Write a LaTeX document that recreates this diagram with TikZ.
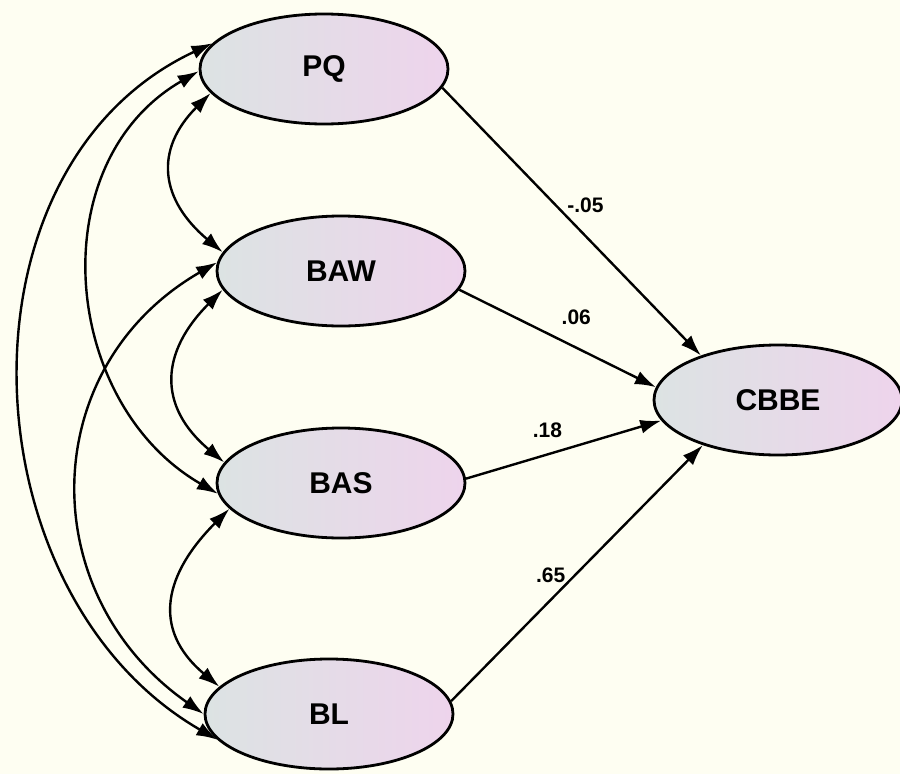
\documentclass[tikz,border=0pt]{standalone}
\usepackage{fontspec}
\setmainfont{Liberation Sans}
\usetikzlibrary{positioning, arrows.meta, shapes.geometric}
\definecolor{pagecream}{RGB}{254,254,242}
\definecolor{ellleft}{RGB}{220,227,227}
\definecolor{ellright}{RGB}{238,212,236}
\tikzset{
  semnode/.style = {ellipse, draw=black, line width=2.8pt, left color=ellleft,
                    right color=ellright, minimum width=248pt,
                    minimum height=110pt, inner sep=0pt,
                    font=\bfseries\fontsize{30}{32}\selectfont},
  semlabel/.style = {inner sep=0pt, font=\bfseries\fontsize{21}{23}\selectfont},
  semarrow/.style = {-{Latex[length=21pt,width=14pt]}, line width=2.4pt},
  semcov/.style = {{Latex[length=21pt,width=14pt]}-{Latex[length=21pt,width=14pt]},
                   line width=2.4pt}
}
\begin{document}
\begin{tikzpicture}[x=1pt, y=-1pt]
\fill[pagecream] (0,0) rectangle (900,774);
\useasboundingbox (0,0) rectangle (900,774);

\node[semnode] (pq)   at (324,69)  {PQ};
\node[semnode] (baw)  at (341,271) {BAW};
\node[semnode] (bas)  at (341,483) {BAS};
\node[semnode] (bl)   at (329,714) {BL};
\node[semnode] (cbbe) at (778,400) {CBBE};

% paths to CBBE
\draw[semarrow] (pq.351)  -- (cbbe.150) node[pos=0.44, right=10pt, semlabel] {-.05};
\draw[semarrow] (baw.351) -- (cbbe.174) node[pos=0.595, above=22pt, semlabel] {.06};
\draw[semarrow] (bas.2)   -- (cbbe.190) node[pos=0.417, above=16pt, semlabel] {.18};
\draw[semarrow] (bl.6)    -- (cbbe.211) node[pos=0.49, left=8pt, semlabel] {.65};

% covariances
\draw[semcov] (pq.192)  to[out=225, in=140, looseness=1.3] (baw.171);
\draw[semcov] (baw.189) to[out=225, in=140, looseness=1.3] (bas.170);
\draw[semcov] (bas.193) to[out=225, in=140, looseness=1.3] (bl.166);
\draw[semcov] (pq.181)  to[out=210, in=150, looseness=1.1] (bas.185);
\draw[semcov] (baw.176) to[out=210, in=145, looseness=1.18] (bl.180);
\draw[semcov] (pq.167)  to[out=205, in=150, looseness=1.07] (bl.193);
\end{tikzpicture}
\end{document}
